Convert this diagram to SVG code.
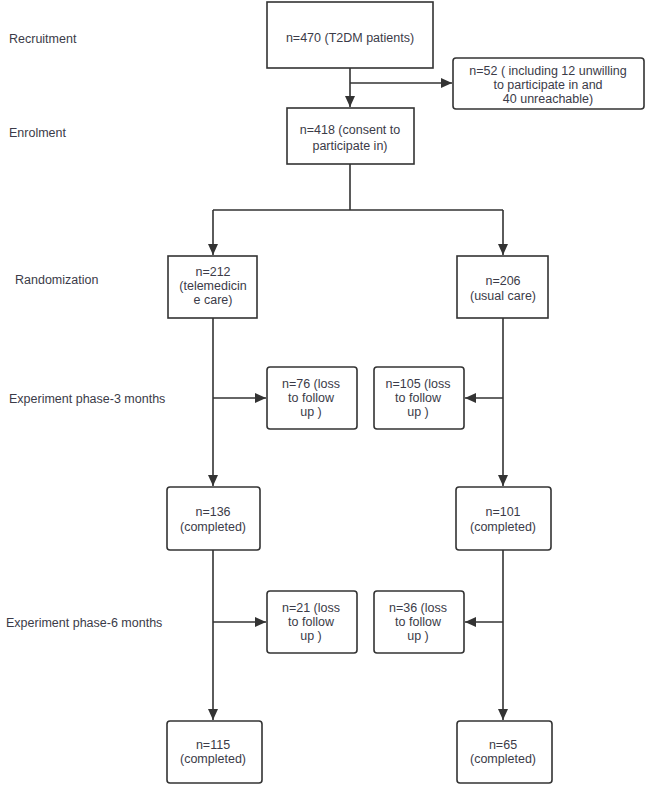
<svg xmlns="http://www.w3.org/2000/svg" width="650" height="792" viewBox="0 0 650 792">
<defs>
<marker id="ah" markerUnits="userSpaceOnUse" markerWidth="12" markerHeight="10" refX="11" refY="5" orient="auto">
<path d="M0,0 L11,5 L0,10 z" fill="#333"/>
</marker>
<style>
text{font-family:"Liberation Sans","Arial",sans-serif;font-size:12.5px;fill:#3b3b48}
.c{text-anchor:middle}
.box{fill:#fff;stroke:#333;stroke-width:1.6}
.ln{fill:none;stroke:#333;stroke-width:1.6}
</style>
</defs>
<rect width="650" height="792" fill="#fff"/>
<g id="labels">
<text x="9" y="43">Recruitment</text>
<text x="9" y="137">Enrolment</text>
<text x="15" y="284">Randomization</text>
<text x="9" y="403">Experiment phase-3 months</text>
<text x="6" y="627">Experiment phase-6 months</text>
</g>
<g id="connectors">
<path class="ln" d="M350,68 V107" marker-end="url(#ah)"/>
<path class="ln" d="M350,83 H452" marker-end="url(#ah)"/>
<path class="ln" d="M350,164 V210 M213,210 H503"/>
<path class="ln" d="M213,210 V255" marker-end="url(#ah)"/>
<path class="ln" d="M503,210 V255" marker-end="url(#ah)"/>
<path class="ln" d="M213,318 V486" marker-end="url(#ah)"/>
<path class="ln" d="M213,398 H266" marker-end="url(#ah)"/>
<path class="ln" d="M503,318 V486" marker-end="url(#ah)"/>
<path class="ln" d="M503,398 H465" marker-end="url(#ah)"/>
<path class="ln" d="M213,550 V720" marker-end="url(#ah)"/>
<path class="ln" d="M213,622 H266" marker-end="url(#ah)"/>
<path class="ln" d="M503,550 V720" marker-end="url(#ah)"/>
<path class="ln" d="M503,622 H465" marker-end="url(#ah)"/>
</g>
<g id="n470">
<rect class="box" x="267" y="2" width="166" height="66"/>
<text class="c" x="350" y="42">n=470 (T2DM patients)</text>
</g>
<g id="n52">
<rect class="box" x="453" y="58" width="191" height="51" rx="3"/>
<text class="c" x="548" y="74.5">n=52 ( including 12 unwilling</text>
<text class="c" x="548" y="88.5">to participate in and</text>
<text class="c" x="548" y="102.5">40 unreachable)</text>
</g>
<g id="n418">
<rect class="box" x="287" y="108" width="127" height="56"/>
<text class="c" x="350" y="134">n=418 (consent to</text>
<text class="c" x="350" y="150">participate in)</text>
</g>
<g id="n212">
<rect class="box" x="168" y="256" width="89" height="62"/>
<text class="c" x="213" y="276">n=212</text>
<text class="c" x="213" y="290">(telemedicin</text>
<text class="c" x="213" y="304">e care)</text>
</g>
<g id="n206">
<rect class="box" x="457" y="256" width="91" height="62"/>
<text class="c" x="503" y="285">n=206</text>
<text class="c" x="503" y="300">(usual care)</text>
</g>
<g id="n76">
<rect class="box" x="267" y="367" width="90" height="62" rx="3"/>
<text class="c" x="311" y="388">n=76 (loss</text>
<text class="c" x="311" y="402">to follow</text>
<text class="c" x="311" y="416">up )</text>
</g>
<g id="n105">
<rect class="box" x="374" y="367" width="90" height="62" rx="3"/>
<text class="c" x="418" y="388">n=105 (loss</text>
<text class="c" x="418" y="402">to follow</text>
<text class="c" x="418" y="416">up )</text>
</g>
<g id="n136">
<rect class="box" x="167" y="487" width="93" height="63" rx="3"/>
<text class="c" x="213" y="516">n=136</text>
<text class="c" x="213" y="531">(completed)</text>
</g>
<g id="n101">
<rect class="box" x="456" y="487" width="95" height="63" rx="3"/>
<text class="c" x="503" y="516">n=101</text>
<text class="c" x="503" y="531">(completed)</text>
</g>
<g id="n21">
<rect class="box" x="267" y="591" width="90" height="62" rx="3"/>
<text class="c" x="311" y="612">n=21 (loss</text>
<text class="c" x="311" y="626">to follow</text>
<text class="c" x="311" y="640">up )</text>
</g>
<g id="n36">
<rect class="box" x="374" y="591" width="90" height="62" rx="3"/>
<text class="c" x="418" y="612">n=36 (loss</text>
<text class="c" x="418" y="626">to follow</text>
<text class="c" x="418" y="640">up )</text>
</g>
<g id="n115">
<rect class="box" x="167" y="721" width="95" height="62" rx="3"/>
<text class="c" x="213" y="749">n=115</text>
<text class="c" x="213" y="763">(completed)</text>
</g>
<g id="n65">
<rect class="box" x="457" y="721" width="95" height="62" rx="3"/>
<text class="c" x="503" y="749">n=65</text>
<text class="c" x="503" y="763">(completed)</text>
</g>
</svg>
